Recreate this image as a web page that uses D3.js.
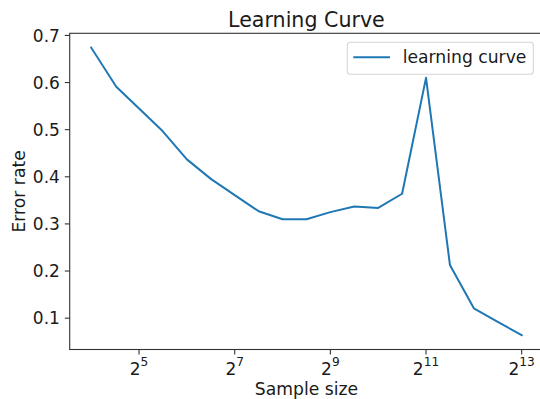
<!DOCTYPE html>
<html>
<head>
<meta charset="utf-8">
<script src="https://cdn.jsdelivr.net/npm/d3@7"></script>
<style>
  body { margin: 0; background: #fff; }
  text { font-family: "DejaVu Sans", sans-serif; fill: #1a1a1a; }
</style>
</head>
<body>
<div id="chart"></div>
<script>
var width = 540,
    height = 399;

// sample sizes (2^4 .. 2^13 in half steps) and error rates
var sampleSizes = [16, 23, 32, 45, 64, 91, 128, 181, 256, 362, 512, 724, 1024, 1448, 2048, 2896, 4096, 5793, 8192];
var errorRates = [0.674, 0.591, 0.545, 0.497, 0.437, 0.395, 0.361, 0.327, 0.310, 0.310, 0.325, 0.337, 0.334, 0.364, 0.610, 0.213, 0.121, 0.092, 0.064];
var xTickExps = [5, 7, 9, 11, 13];
var yTicks = [0.1, 0.2, 0.3, 0.4, 0.5, 0.6, 0.7];

// plot box (right edge falls just outside the picture)
var pLeft = 69.7, pRight = 543.2, pTop = 33.3, pBottom = 349.5;

var svg = d3.select("#chart").append("svg")
  .attr("width", width)
  .attr("height", height);

// matplotlib style 5% margins on both axes
var lx = d3.extent(sampleSizes, function(d){ return Math.log2(d) });
var mx = (lx[1] - lx[0]) * 0.05;
var x = d3.scaleLog().base(2)
  .domain([Math.pow(2, lx[0] - mx), Math.pow(2, lx[1] + mx)])
  .range([pLeft, pRight]);

var ey = d3.extent(errorRates);
var my = (ey[1] - ey[0]) * 0.05;
var y = d3.scaleLinear()
  .domain([ey[0] - my, ey[1] + my])
  .range([pBottom, pTop]);

var data = sampleSizes.map(function(s, i){ return {s: s, e: errorRates[i]} });

// line
var line = d3.line()
  .x(function(d){ return x(d.s) })
  .y(function(d){ return y(d.e) });

svg.append("path")
  .datum(data)
  .attr("d", line)
  .attr("fill", "none")
  .attr("stroke", "#1f77b4")
  .attr("stroke-width", 2)
  .attr("stroke-linejoin", "round")
  .attr("stroke-linecap", "square");

// spines
svg.append("rect")
  .attr("x", pLeft)
  .attr("y", pTop)
  .attr("width", pRight - pLeft)
  .attr("height", pBottom - pTop)
  .attr("fill", "none")
  .attr("stroke", "#333")
  .attr("stroke-width", 1.1);

// y ticks
var yt = svg.selectAll("g.ytick")
  .data(yTicks)
  .enter().append("g")
  .attr("class", "ytick")
  .attr("transform", function(d){ return "translate(0," + y(d) + ")" });

yt.append("line")
  .attr("x1", pLeft - 4.9).attr("x2", pLeft)
  .attr("stroke", "#333").attr("stroke-width", 1.1);

yt.append("text")
  .attr("x", pLeft - 9.8)
  .attr("dy", "0.36em")
  .attr("text-anchor", "end")
  .style("font-size", "17px")
  .text(function(d){ return d3.format(".1f")(d) });

// x ticks
var xt = svg.selectAll("g.xtick")
  .data(xTickExps)
  .enter().append("g")
  .attr("class", "xtick")
  .attr("transform", function(d){ return "translate(" + x(Math.pow(2, d)) + ",0)" });

xt.append("line")
  .attr("y1", pBottom).attr("y2", pBottom + 4.9)
  .attr("stroke", "#333").attr("stroke-width", 1.1);

var xl = xt.append("text")
  .attr("y", 374.5)
  .attr("text-anchor", "middle")
  .style("font-size", "17px");
xl.append("tspan").text("2");
xl.append("tspan")
  .attr("dy", -8.5)
  .style("font-size", "12.2px")
  .text(function(d){ return d });

// title and axis labels
svg.append("text")
  .attr("x", (pLeft + pRight) / 2)
  .attr("y", 26.5)
  .attr("text-anchor", "middle")
  .style("font-size", "20.6px")
  .text("Learning Curve");

svg.append("text")
  .attr("x", (pLeft + pRight) / 2)
  .attr("y", 395)
  .attr("text-anchor", "middle")
  .style("font-size", "17.2px")
  .text("Sample size");

svg.append("text")
  .attr("transform", "translate(25," + (pTop + pBottom) / 2 + ") rotate(-90)")
  .attr("text-anchor", "middle")
  .style("font-size", "17.2px")
  .text("Error rate");

// legend
var lg = svg.append("g").attr("transform", "translate(347.3,42.3)");
lg.append("rect")
  .attr("width", 186)
  .attr("height", 32)
  .attr("rx", 3)
  .attr("fill", "#fff")
  .attr("fill-opacity", 0.8)
  .attr("stroke", "#d6d6d6")
  .attr("stroke-width", 1.1);
lg.append("line")
  .attr("x1", 6).attr("x2", 42.7)
  .attr("y1", 15).attr("y2", 15)
  .attr("stroke", "#1f77b4")
  .attr("stroke-width", 2);
lg.append("text")
  .attr("x", 55.4)
  .attr("y", 21.2)
  .style("font-size", "17.2px")
  .text("learning curve");
</script>
</body>
</html>
